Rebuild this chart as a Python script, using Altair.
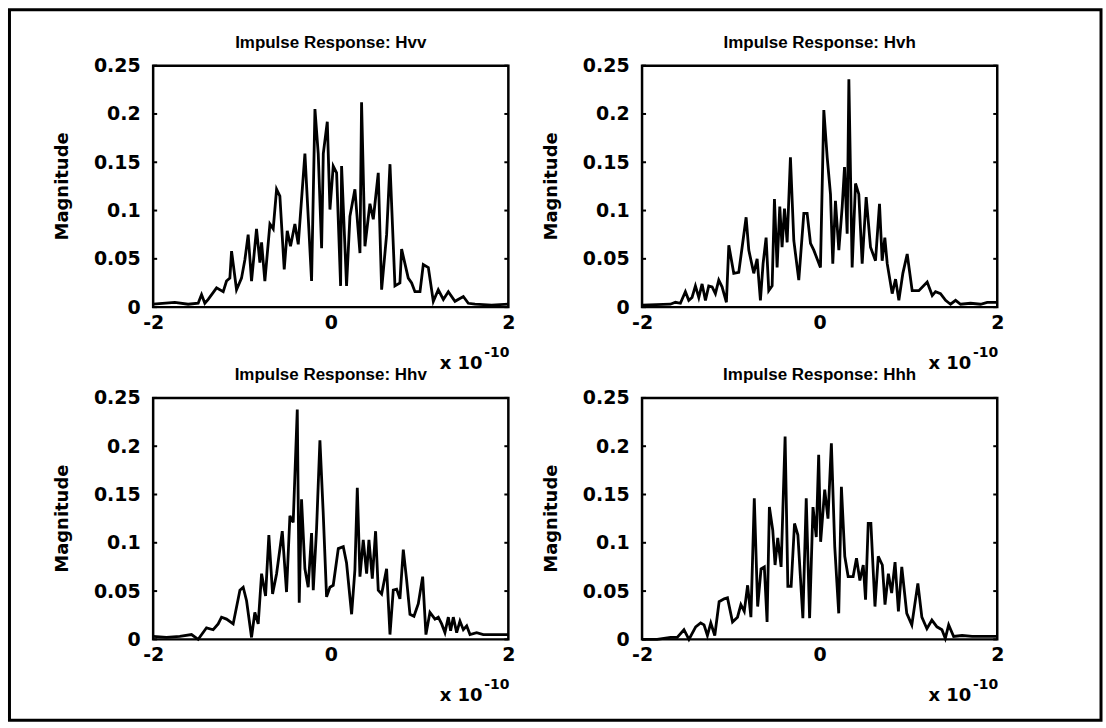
import altair as alt
import pandas as pd

# ---------------- data (time in units of 1e-10 s, magnitude) ----------------
x_hvv = [-2.000, -1.756, -1.606, -1.493, -1.455, -1.418, -1.380, -1.286, -1.211, -1.174,
         -1.136, -1.117, -1.061, -1.005, -0.967, -0.930, -0.892, -0.836, -0.798, -0.779,
         -0.742, -0.685, -0.648, -0.610, -0.573, -0.524, -0.490, -0.453, -0.404, -0.366,
         -0.291, -0.216, -0.178, -0.141, -0.103, -0.084, -0.039, -0.009, 0.028, 0.066,
         0.111, 0.122, 0.178, 0.216, 0.272, 0.329, 0.347, 0.385, 0.441, 0.479,
         0.535, 0.573, 0.629, 0.667, 0.723, 0.779, 0.798, 0.873, 0.911, 0.948,
         1.005, 1.042, 1.099, 1.155, 1.211, 1.268, 1.324, 1.399, 1.493, 1.549,
         1.624, 1.812, 2.000]
y_hvv = [0.003, 0.005, 0.003, 0.004, 0.013, 0.004, 0.008, 0.020, 0.016, 0.027,
         0.030, 0.058, 0.018, 0.030, 0.049, 0.075, 0.027, 0.081, 0.046, 0.067,
         0.027, 0.086, 0.081, 0.122, 0.115, 0.039, 0.079, 0.063, 0.086, 0.065,
         0.159, 0.027, 0.205, 0.159, 0.061, 0.159, 0.192, 0.101, 0.146, 0.139,
         0.022, 0.146, 0.022, 0.094, 0.122, 0.056, 0.212, 0.063, 0.107, 0.091,
         0.139, 0.018, 0.075, 0.148, 0.022, 0.025, 0.060, 0.030, 0.025, 0.016,
         0.016, 0.044, 0.041, 0.006, 0.018, 0.008, 0.016, 0.006, 0.011, 0.004,
         0.003, 0.002, 0.003]

x_hvh = [-2.000, -1.681, -1.624, -1.568, -1.512, -1.474, -1.437, -1.399, -1.361, -1.324,
         -1.286, -1.249, -1.211, -1.174, -1.136, -1.099, -1.050, -1.023, -0.967, -0.911,
         -0.873, -0.828, -0.798, -0.742, -0.704, -0.667, -0.637, -0.603, -0.573, -0.535,
         -0.509, -0.479, -0.449, -0.423, -0.396, -0.366, -0.329, -0.291, -0.235, -0.178,
         -0.141, -0.103, -0.066, 0.009, 0.047, 0.085, 0.122, 0.148, 0.178, 0.216,
         0.254, 0.280, 0.310, 0.329, 0.366, 0.404, 0.441, 0.479, 0.524, 0.573,
         0.629, 0.674, 0.704, 0.734, 0.761, 0.817, 0.855, 0.892, 0.937, 0.986,
         1.042, 1.117, 1.211, 1.268, 1.305, 1.361, 1.418, 1.474, 1.531, 1.587,
         1.700, 1.812, 1.887, 2.000]
y_hvh = [0.002, 0.003, 0.005, 0.004, 0.016, 0.007, 0.010, 0.022, 0.010, 0.024,
         0.007, 0.022, 0.021, 0.014, 0.028, 0.021, 0.005, 0.064, 0.035, 0.036,
         0.062, 0.093, 0.059, 0.035, 0.050, 0.007, 0.045, 0.072, 0.017, 0.022,
         0.112, 0.041, 0.104, 0.062, 0.102, 0.067, 0.155, 0.069, 0.028, 0.097,
         0.097, 0.066, 0.059, 0.041, 0.204, 0.155, 0.117, 0.045, 0.110, 0.059,
         0.104, 0.145, 0.076, 0.236, 0.041, 0.128, 0.117, 0.045, 0.114, 0.062,
         0.048, 0.107, 0.048, 0.072, 0.045, 0.014, 0.029, 0.007, 0.035, 0.055,
         0.017, 0.017, 0.026, 0.012, 0.016, 0.014, 0.007, 0.003, 0.007, 0.003,
         0.004, 0.003, 0.005, 0.005]

x_hhv = [-2.000, -1.850, -1.700, -1.568, -1.493, -1.399, -1.324, -1.268, -1.230, -1.174,
         -1.099, -1.023, -0.986, -0.948, -0.892, -0.855, -0.817, -0.779, -0.734, -0.697,
         -0.655, -0.610, -0.546, -0.498, -0.460, -0.423, -0.377, -0.355, -0.329, -0.291,
         -0.254, -0.216, -0.197, -0.160, -0.122, -0.085, -0.047, -0.009, 0.028, 0.085,
         0.141, 0.178, 0.235, 0.272, 0.299, 0.329, 0.366, 0.404, 0.430, 0.468,
         0.505, 0.535, 0.573, 0.629, 0.667, 0.704, 0.742, 0.779, 0.817, 0.855,
         0.892, 0.937, 0.986, 1.035, 1.072, 1.117, 1.174, 1.211, 1.249, 1.286,
         1.324, 1.350, 1.380, 1.418, 1.455, 1.493, 1.531, 1.568, 1.643, 1.718,
         1.831, 2.000]
y_hhv = [0.003, 0.002, 0.003, 0.005, 0.000, 0.012, 0.010, 0.016, 0.023, 0.021,
         0.016, 0.051, 0.054, 0.040, 0.002, 0.028, 0.016, 0.068, 0.045, 0.108,
         0.047, 0.068, 0.112, 0.049, 0.128, 0.121, 0.238, 0.038, 0.145, 0.073,
         0.054, 0.110, 0.051, 0.114, 0.206, 0.131, 0.044, 0.054, 0.056, 0.094,
         0.096, 0.079, 0.026, 0.072, 0.157, 0.065, 0.103, 0.068, 0.103, 0.063,
         0.112, 0.051, 0.047, 0.073, 0.005, 0.051, 0.052, 0.042, 0.093, 0.061,
         0.026, 0.024, 0.037, 0.065, 0.005, 0.028, 0.021, 0.023, 0.016, 0.007,
         0.023, 0.009, 0.023, 0.007, 0.019, 0.010, 0.014, 0.005, 0.007, 0.005,
         0.005, 0.005]

x_hhh = [-2.000, -1.830, -1.679, -1.604, -1.528, -1.472, -1.396, -1.340, -1.302, -1.264,
         -1.226, -1.181, -1.132, -1.075, -1.038, -0.981, -0.925, -0.887, -0.849, -0.811,
         -0.774, -0.736, -0.698, -0.660, -0.623, -0.592, -0.566, -0.528, -0.502, -0.472,
         -0.434, -0.389, -0.358, -0.321, -0.283, -0.245, -0.189, -0.151, -0.113, -0.075,
         -0.038, -0.011, 0.011, 0.057, 0.094, 0.132, 0.170, 0.215, 0.245, 0.283,
         0.321, 0.377, 0.415, 0.453, 0.491, 0.517, 0.547, 0.577, 0.623, 0.660,
         0.706, 0.736, 0.774, 0.811, 0.849, 0.887, 0.925, 0.981, 1.038, 1.106,
         1.151, 1.208, 1.264, 1.321, 1.377, 1.415, 1.453, 1.509, 1.604, 1.717,
         1.868, 2.000]
y_hhh = [0.000, 0.000, 0.002, 0.002, 0.010, 0.000, 0.013, 0.017, 0.015, 0.004,
         0.017, 0.004, 0.039, 0.042, 0.043, 0.018, 0.023, 0.036, 0.029, 0.056,
         0.023, 0.146, 0.034, 0.073, 0.075, 0.018, 0.137, 0.113, 0.077, 0.105,
         0.075, 0.210, 0.055, 0.055, 0.120, 0.108, 0.022, 0.146, 0.022, 0.137,
         0.106, 0.191, 0.101, 0.155, 0.125, 0.203, 0.096, 0.027, 0.158, 0.086,
         0.065, 0.065, 0.084, 0.061, 0.077, 0.041, 0.120, 0.120, 0.034, 0.086,
         0.077, 0.036, 0.068, 0.048, 0.080, 0.029, 0.075, 0.027, 0.015, 0.058,
         0.023, 0.011, 0.020, 0.013, 0.010, 0.001, 0.015, 0.003, 0.004, 0.003,
         0.003, 0.003]

titles = ["Impulse Response: Hvv", "Impulse Response: Hvh",
          "Impulse Response: Hhv", "Impulse Response: Hhh"]
y_ticks = [0, 0.05, 0.1, 0.15, 0.2, 0.25]
x_ticks = [-2, 0, 2]
y_label = "Magnitude"
x_mult = "x 10"
x_exp = "-10"

# ---------------- layout ----------------
W, H = 356, 242
FONT = "DejaVu Sans"
one = pd.DataFrame({"k": [0]})


def panel(xs, ys, title, border=False):
    df = pd.DataFrame({"t": xs, "m": ys})
    xsc = alt.Scale(domain=[-2, 2], nice=False, zero=False)
    ysc = alt.Scale(domain=[0, 0.25], nice=False)
    line = alt.Chart(df).mark_line(color="black", strokeWidth=2.8).encode(
        x=alt.X("t:Q", scale=xsc, title=None,
                axis=alt.Axis(values=x_ticks, labelExpr="'' + datum.value",
                              labelPadding=6, labelFlush=False, labelOverlap=False)),
        y=alt.Y("m:Q", scale=ysc, title=None,
                axis=alt.Axis(values=y_ticks, format="~g", labelPadding=13,
                              labelFlush=False, labelOverlap=False)),
    )
    tdf = pd.DataFrame({"m": y_ticks})
    tl = alt.Chart(tdf).mark_rule(color="black", strokeWidth=2).encode(
        y="m:Q", x=alt.value(0), x2=alt.value(4))
    tr = alt.Chart(tdf).mark_rule(color="black", strokeWidth=2).encode(
        y="m:Q", x=alt.value(W - 4), x2=alt.value(W))
    ttl = alt.Chart(one).mark_text(font="Liberation Sans", fontWeight="bold", fontSize=17,
                                   baseline="middle", align="center", color="black").encode(
        x=alt.value(W / 2), y=alt.value(-23), text=alt.value(title))
    ylab = alt.Chart(one).mark_text(font=FONT, fontWeight="bold", fontSize=18, angle=270,
                                    baseline="middle", align="center", color="black").encode(
        x=alt.value(-90), y=alt.value(H / 2), text=alt.value(y_label))
    mult = alt.Chart(one).mark_text(font=FONT, fontWeight="bold", fontSize=18,
                                    baseline="middle", align="right", color="black").encode(
        x=alt.value(W - 26), y=alt.value(H + 57), text=alt.value(x_mult))
    expo = alt.Chart(one).mark_text(font=FONT, fontWeight="bold", fontSize=14,
                                    baseline="middle", align="right", color="black").encode(
        x=alt.value(W + 1), y=alt.value(H + 46), text=alt.value(x_exp))
    layers = [line, tl, tr, ttl, ylab, mult, expo]
    if border:
        rect = alt.Chart(one).mark_rect(fill=None, fillOpacity=0, stroke="black",
                                        strokeWidth=3).encode(
            x=alt.value(-144), y=alt.value(-56), x2=alt.value(950), y2=alt.value(656))
        layers.append(rect)
    return alt.layer(*layers).properties(width=W, height=H)


p1 = panel(x_hvv, y_hvv, titles[0], border=True)
p2 = panel(x_hvh, y_hvh, titles[1])
p3 = panel(x_hhv, y_hhv, titles[2])
p4 = panel(x_hhh, y_hhh, titles[3])

chart = alt.concat(p1, p2, p3, p4, columns=2,
                   spacing={"row": 91, "column": 134}, bounds="flush").properties(
    padding={"left": 6.5, "top": 6, "right": 2, "bottom": 2},
    background="white",
).configure_view(
    stroke="black", strokeWidth=2.5
).configure_axis(
    grid=False, domain=False, ticks=False,
    labelFont=FONT, labelFontWeight="bold", labelFontSize=19, labelColor="black",
)

chart.save("out.html", embed_options={"renderer": "svg", "actions": False})
